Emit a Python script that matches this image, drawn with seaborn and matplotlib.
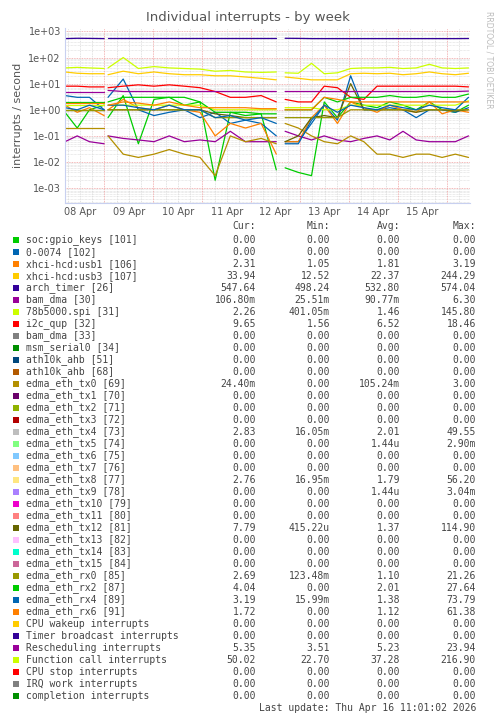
import numpy as np
import pandas as pd
import matplotlib
matplotlib.use("Agg")
import matplotlib.pyplot as plt
import matplotlib.patches as mpatches
from matplotlib.ticker import FixedLocator, NullFormatter
import seaborn as sns

nan = np.nan
# sample times, days since left edge (Apr 8 ~04:40); NaN samples mark data gaps
t = [0, 0.25, 0.5, 0.8, 0.84, 0.88, 1.19, 1.5, 1.82, 2.13, 2.44, 2.76, 3.07, 3.38, 3.69, 4.01, 4.32,
     4.36, 4.45, 4.5, 4.77, 5.04, 5.30, 5.57, 5.84, 6.11, 6.38, 6.64, 6.91, 7.18, 7.45, 7.71, 7.98, 8.25]

arch_timer = [530,545,540,530,nan,545,545,545,545,545,545,545,545,545,545,545,545,nan,nan,545,540,530,530,530,530,530,530,530,530,530,530,530,530,535]
func_call = [40,42,40,38,nan,40,100,38,45,40,38,36,30,32,28,27,28,nan,nan,26,25,60,24,26,38,40,40,42,38,40,55,40,38,40]
usb3 = [28,25,24,24,nan,22,30,24,28,24,22,22,20,20,18,16,14,nan,nan,18,16,14,14,14,24,25,24,25,22,24,28,24,22,25]
i2c = [8,8,7.5,7.5,nan,7,8,9,8,9,8,7,5,3,3,3.5,2,nan,nan,2.5,2,2,8,7,3,2.5,8,8,8,8,8,8,8,7.5]
resched = [5,5,5,5,nan,5.5,5,5,5,5,5,5,5,5,5,5,5,nan,nan,5,5,5,5,5,5,5,5,5,5,5,5,5,5,5.2]
bam30 = [0.06,0.1,0.06,0.05,nan,0.1,0.08,0.07,0.06,0.1,0.06,0.07,0.06,0.15,0.06,0.06,0.06,nan,nan,0.15,0.1,0.07,0.1,0.07,0.06,0.08,0.1,0.07,0.15,0.07,0.06,0.06,0.06,0.1]
usb1 = [1.5,0.8,1.2,0.6,nan,1.0,2.5,1.2,1.0,1.5,1.0,0.8,0.1,0.3,0.2,0.3,0.02,nan,nan,0.06,0.06,0.5,1.5,0.3,2.0,1.2,0.8,1.5,1.0,0.8,2.0,0.7,1.0,0.8]
gpio = [0.8,0.2,1.0,1.5,nan,0.5,3.5,0.05,2.5,3,1.5,2.0,0.002,0.8,0.6,0.7,0.005,nan,nan,0.006,0.004,0.003,2.0,0.5,2,1.5,1.2,2,1.5,1.0,2.0,1.0,0.8,1.5]
dev0074 = [3.5,3.0,3.0,1.0,nan,3.0,15,1.0,0.6,0.8,1.0,0.5,0.8,0.3,0.4,0.3,0.1,nan,nan,0.06,0.06,0.3,1.5,0.4,20,1.0,1.0,1.2,1.0,0.5,1.0,1.0,0.8,1.2]
tx0 = [0.2,0.2,0.2,0.2,nan,0.1,0.02,0.015,0.02,0.03,0.02,0.015,0.003,0.1,0.06,0.08,0.05,nan,nan,0.3,0.2,0.1,0.06,0.05,0.1,0.06,0.02,0.02,0.015,0.02,0.02,0.015,0.02,0.015]
tx12 = [1,1,1,1,nan,1,1,1,1,1,1,1,0.7,0.6,0.5,0.5,0.5,nan,nan,0.06,0.1,0.5,0.6,0.5,10,1,1,1,1,0.8,1,1,0.9,1]
rx0 = [1,1,1,1,nan,1,1,1,1,1,1,1,0.5,0.5,0.5,0.5,0.5,nan,nan,0.5,0.5,0.5,0.5,0.5,1,1,1,1,1,1,1,1,1,1]
rx2 = [2,2,2,2,nan,2,3,3,3,3,3,2,0.8,0.8,0.8,0.7,0.7,nan,nan,1.0,1.0,1.0,3,2,3,3,3,3.5,3,3,3.5,3,3,4]
rx4 = [1.2,1.0,1.5,1.0,nan,1.5,1.5,1.2,1.0,1.5,1.0,1.0,0.5,0.6,0.4,0.5,0.3,nan,nan,0.05,0.05,0.4,1.5,0.8,1.5,1.2,1.0,1.5,1.2,1.0,1.5,1.2,1.0,3]
rx6 = [1.8,1.8,1.8,1.8,nan,1.5,2,1.8,1.5,2,1.5,1.2,1.2,1.2,1.2,1.1,1.1,nan,nan,1.0,1.0,1.0,3,2.5,2,2,2,2,2,2,2,2,2,2]
spi = [1.5,1.5,1.5,1.5,nan,1.5,1.5,1.5,1.5,1.5,1.5,1.5,1.0,1.0,1.0,1.0,1.0,nan,nan,1.2,1.2,1.2,1.0,1.0,1.5,1.5,1.5,1.5,1.5,1.5,1.5,1.5,1.5,2.2]

plot_series = [
    (gpio, "#00CC00"), (dev0074, "#0066B3"), (usb1, "#FF8000"), (usb3, "#FFCC00"),
    (arch_timer, "#330099"), (bam30, "#990099"), (spi, "#CCFF00"), (i2c, "#FF0000"),
    (tx0, "#B38F00"), (tx12, "#666600"), (rx0, "#999900"), (rx2, "#00CC00"),
    (rx4, "#0066B3"), (rx6, "#FF8000"), (resched, "#990099"), (func_call, "#CCFF00"),
]

tick_labels = ["08 Apr", "09 Apr", "10 Apr", "11 Apr", "12 Apr", "13 Apr", "14 Apr", "15 Apr"]

legend_names = ["soc:gpio_keys [101]", "0-0074 [102]", "xhci-hcd:usb1 [106]", "xhci-hcd:usb3 [107]",
    "arch_timer [26]", "bam_dma [30]", "78b5000.spi [31]", "i2c_qup [32]", "bam_dma [33]",
    "msm_serial0 [34]", "ath10k_ahb [51]", "ath10k_ahb [68]", "edma_eth_tx0 [69]", "edma_eth_tx1 [70]",
    "edma_eth_tx2 [71]", "edma_eth_tx3 [72]", "edma_eth_tx4 [73]", "edma_eth_tx5 [74]", "edma_eth_tx6 [75]",
    "edma_eth_tx7 [76]", "edma_eth_tx8 [77]", "edma_eth_tx9 [78]", "edma_eth_tx10 [79]", "edma_eth_tx11 [80]",
    "edma_eth_tx12 [81]", "edma_eth_tx13 [82]", "edma_eth_tx14 [83]", "edma_eth_tx15 [84]", "edma_eth_rx0 [85]",
    "edma_eth_rx2 [87]", "edma_eth_rx4 [89]", "edma_eth_rx6 [91]", "CPU wakeup interrupts",
    "Timer broadcast interrupts", "Rescheduling interrupts", "Function call interrupts",
    "CPU stop interrupts", "IRQ work interrupts", "completion interrupts"]
legend_colors = ["#00CC00","#0066B3","#FF8000","#FFCC00","#330099","#990099","#CCFF00","#FF0000","#808080",
    "#008F00","#00487D","#B35A00","#B38F00","#6B006B","#8FB300","#B30000","#BEBEBE","#80FF80","#80C9FF",
    "#FFC080","#FFE680","#AA80FF","#EE00CC","#FF8080","#666600","#FFBFFF","#00FFCC","#CC6699","#999900",
    "#00CC00","#0066B3","#FF8000","#FFCC00","#330099","#990099","#CCFF00","#FF0000","#808080","#008F00"]
cur = ["0.00","0.00","2.31","33.94","547.64","106.80m","2.26","9.65","0.00","0.00","0.00","0.00","24.40m","0.00",
    "0.00","0.00","2.83","0.00","0.00","0.00","2.76","0.00","0.00","0.00","7.79","0.00","0.00","0.00","2.69",
    "4.04","3.19","1.72","0.00","0.00","5.35","50.02","0.00","0.00","0.00"]
mins = ["0.00","0.00","1.05","12.52","498.24","25.51m","401.05m","1.56","0.00","0.00","0.00","0.00","0.00","0.00",
    "0.00","0.00","16.05m","0.00","0.00","0.00","16.95m","0.00","0.00","0.00","415.22u","0.00","0.00","0.00",
    "123.48m","0.00","15.99m","0.00","0.00","0.00","3.51","22.70","0.00","0.00","0.00"]
avgs = ["0.00","0.00","1.81","22.37","532.80","90.77m","1.46","6.52","0.00","0.00","0.00","0.00","105.24m","0.00",
    "0.00","0.00","2.01","1.44u","0.00","0.00","1.79","1.44u","0.00","0.00","1.37","0.00","0.00","0.00","1.10",
    "2.01","1.38","1.12","0.00","0.00","5.23","37.28","0.00","0.00","0.00"]
maxs = ["0.00","0.00","3.19","244.29","574.04","6.30","145.80","18.46","0.00","0.00","0.00","0.00","3.00","0.00",
    "0.00","0.00","49.55","2.90m","0.00","0.00","56.20","3.04m","0.00","0.00","114.90","0.00","0.00","0.00",
    "21.26","27.64","73.79","61.38","0.00","0.00","23.94","216.90","0.00","0.00","0.00"]

sns.set_style("white")
plt.rcParams['font.family'] = ['DejaVu Sans']
W, H = 497, 720
fig = plt.figure(figsize=(W/100, H/100), dpi=100)
ax = fig.add_axes([65/W, 1-203/H, 405/W, 175/H])

tt = np.array(t, dtype=float)
for vals, col in plot_series:
    v = np.array(vals, dtype=float)
    seg = np.cumsum(np.isnan(v))
    df = pd.DataFrame({"t": tt, "v": v, "seg": seg}).dropna()
    sns.lineplot(data=df, x="t", y="v", units="seg", color=col, lw=0.9, ax=ax,
                 estimator=None, sort=False)

ax.set_yscale("log")
ax.set_ylim(2.7e-4, 1.35e3)
ax.set_xlim(0, 8.28)
day0 = (80-65)/48.9  # Apr 8 noon
ax.set_xticks([day0 + i for i in range(8)])
ax.set_xticklabels(tick_labels)
ax.set_yticks([10.0**k for k in range(-3, 4)])
ax.set_yticklabels(["1e-03","1e-02","1e-01","1e+00","1e+01","1e+02","1e+03"])
ax.yaxis.set_minor_locator(FixedLocator([m*10.0**k for k in range(-4, 4) for m in range(2, 10)]))
ax.yaxis.set_minor_formatter(NullFormatter())
ax.tick_params(axis='both', labelsize=7, colors="#555555", length=0, pad=3)
ax.set_xlabel("")
ax.set_ylabel("interrupts / second", fontsize=8, color="#555555")
for k in range(-3, 4):
    ax.axhline(10.0**k, color="#F0A0A0", lw=0.6, ls=(0, (1, 1)), zorder=0)
for m in ax.yaxis.get_minorticklocs():
    ax.axhline(m, color="#D8D8D8", lw=0.5, ls=(0, (1, 1)), zorder=0)
for i in range(-1, 9):
    for h in range(4):
        x = day0 + i + 0.5 + h*0.25
        if 0 < x < 8.25:
            ax.axvline(x, color="#F0A0A0" if h == 0 else "#D8D8D8", lw=0.6, ls=(0, (1, 1)), zorder=0)
for s in ["top", "right"]:
    ax.spines[s].set_visible(False)
ax.spines["left"].set_color("#C8D0F0")
ax.spines["bottom"].set_color("#C8D0F0")

fig.text(248/W, 1-18/H, "Individual interrupts - by week", ha="center", va="center", fontsize=9.5, color="#555555")
fig.text(489/W, 1-60/H, "RRDTOOL / TOBI OETIKER", rotation=270, ha="center", va="center", fontsize=5.5, color="#BBBBBB")

mono = "DejaVu Sans Mono"
fs = 7
colx = [256, 330, 400, 476]
y0 = 226
for cx, lab in zip(colx, ["Cur:", "Min:", "Avg:", "Max:"]):
    fig.text(cx/W, 1-y0/H, lab, ha="right", va="center", family=mono, fontsize=fs, color="#444444")
for i, name in enumerate(legend_names):
    y = 240 + i*12.0
    fig.patches.append(mpatches.Rectangle((13/W, 1-(y+3)/H), 6/W, 6/H, transform=fig.transFigure,
                                          facecolor=legend_colors[i], edgecolor="none"))
    fig.text(26/W, 1-y/H, name, ha="left", va="center", family=mono, fontsize=fs, color="#444444")
    for cx, v in zip(colx, [cur[i], mins[i], avgs[i], maxs[i]]):
        fig.text(cx/W, 1-y/H, v, ha="right", va="center", family=mono, fontsize=fs, color="#444444")
fig.text(476/W, 1-708/H, "Last update: Thu Apr 16 11:01:02 2026", ha="right", va="center", family=mono, fontsize=fs, color="#444444")

fig.savefig("out.png", dpi=100)
